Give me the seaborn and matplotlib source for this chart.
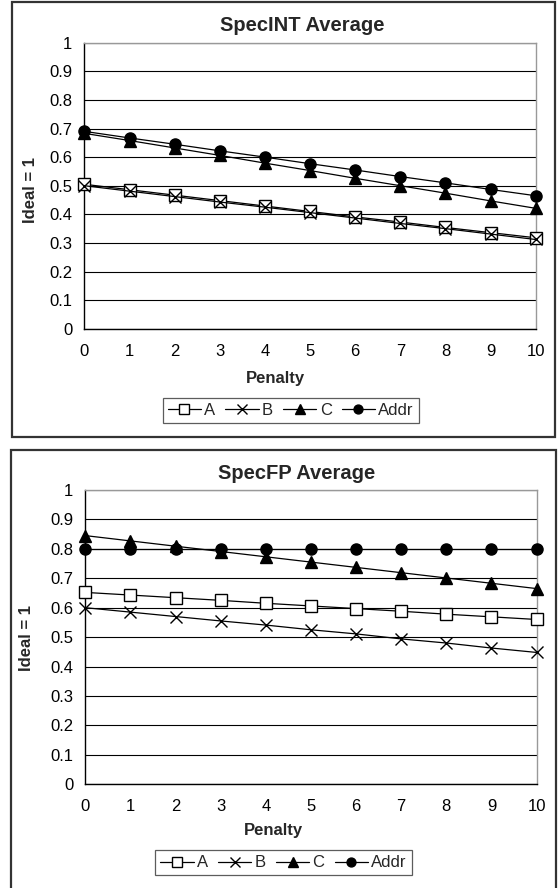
import numpy as np
import pandas as pd
import matplotlib
matplotlib.use("Agg")
import matplotlib.pyplot as plt
from matplotlib.patches import Rectangle
from matplotlib.lines import Line2D
import seaborn as sns

# data
penalty = [0, 1, 2, 3, 4, 5, 6, 7, 8, 9, 10]
series_names = ['A', 'B', 'C', 'Addr']

int_a = [0.505, 0.486, 0.467, 0.448, 0.429, 0.410, 0.391, 0.373, 0.354, 0.336, 0.318]
int_b = [0.500, 0.481, 0.462, 0.443, 0.425, 0.406, 0.387, 0.368, 0.350, 0.331, 0.312]
int_c = [0.683, 0.658, 0.632, 0.606, 0.579, 0.553, 0.526, 0.500, 0.474, 0.447, 0.421]
int_addr = [0.690, 0.667, 0.645, 0.622, 0.600, 0.577, 0.555, 0.532, 0.510, 0.487, 0.465]

fp_a = [0.652, 0.643, 0.634, 0.625, 0.615, 0.606, 0.597, 0.588, 0.578, 0.569, 0.560]
fp_b = [0.600, 0.585, 0.570, 0.555, 0.541, 0.525, 0.511, 0.494, 0.480, 0.463, 0.448]
fp_c = [0.845, 0.827, 0.809, 0.791, 0.773, 0.755, 0.737, 0.719, 0.701, 0.683, 0.665]
fp_addr = [0.80, 0.80, 0.80, 0.80, 0.80, 0.80, 0.80, 0.80, 0.80, 0.80, 0.80]

y_ticks = [0, 0.1, 0.2, 0.3, 0.4, 0.5, 0.6, 0.7, 0.8, 0.9, 1]

sns.set_style("white")
plt.rcParams['font.family'] = ['Liberation Sans', 'DejaVu Sans']

# marker look per series: (marker, size, facecolor)
styles = {
    'A': ('s', 8.5, 'white'),
    'B': ('x', 8.5, 'black'),
    'C': ('^', 8.5, 'black'),
    'Addr': ('o', 8.0, 'black'),
}


def make_df(a, b, c, addr):
    rows = []
    for name, vals in zip(series_names, [a, b, c, addr]):
        for x, v in zip(penalty, vals):
            rows.append({'Penalty': x, 'value': v, 'series': name})
    return pd.DataFrame(rows)


def draw_panel(ax, df):
    for name in series_names:
        mk, ms, fc = styles[name]
        sub = df[df['series'] == name]
        sns.lineplot(data=sub, x='Penalty', y='value', ax=ax, color='black', lw=0.9,
                     marker=mk, markersize=ms, markerfacecolor=fc, markeredgecolor='black',
                     markeredgewidth=1.0, clip_on=False, legend=False, zorder=3)
    ax.set_xlim(0, 10)
    ax.set_ylim(0, 1)
    ax.set_xticks(penalty)
    ax.set_yticks(y_ticks)
    ax.set_yticklabels([f'{v:g}' for v in y_ticks])
    ax.set_xlabel('')
    ax.set_ylabel('')
    ax.grid(axis='y', color='black', lw=0.8)
    ax.grid(axis='x', visible=False)
    ax.tick_params(axis='both', direction='inout', length=5.5, width=0.9, color='black',
                   labelsize=12, labelcolor='black', pad=6)
    ax.tick_params(axis='x', pad=8)
    ax.spines['left'].set_color('black')
    ax.spines['bottom'].set_color('black')
    ax.spines['top'].set_color('#999999')
    ax.spines['right'].set_color('#999999')
    for s in ax.spines.values():
        s.set_linewidth(1.0)
        s.set_visible(True)


fig = plt.figure(figsize=(5.58, 8.88), dpi=100)

# outer chart boxes
fig.patches.append(Rectangle((0.0224, 0.5082), 0.973, 0.4898, transform=fig.transFigure,
                             fill=False, edgecolor='#333333', lw=1.6))
fig.patches.append(Rectangle((0.0197, -0.02), 0.976, 0.5132, transform=fig.transFigure,
                             fill=False, edgecolor='#333333', lw=1.6))

ax1 = fig.add_axes([0.1514, 0.6298, 0.8086, 0.3221])
draw_panel(ax1, make_df(int_a, int_b, int_c, int_addr))
ax2 = fig.add_axes([0.1530, 0.1168, 0.8086, 0.3314])
draw_panel(ax2, make_df(fp_a, fp_b, fp_c, fp_addr))

handles = []
for name in series_names:
    mk, ms, fc = styles[name]
    handles.append(Line2D([0], [0], color='black', lw=0.9, marker=mk, markersize=ms * 0.8,
                          markerfacecolor=fc, markeredgecolor='black'))

titles = ['SpecINT Average', 'SpecFP Average']
title_pos = [(0.541, 0.9715), (0.532, 0.4673)]
ylab_pos = [(0.054, 0.786), (0.048, 0.2815)]
xlab_pos = [(0.493, 0.574), (0.490, 0.0653)]
leg_pos = [(0.521, 0.5374), (0.508, 0.0282)]

for i in range(2):
    fig.text(*title_pos[i], titles[i], ha='center', va='center', fontsize=14.5, fontweight='bold')
    fig.text(*ylab_pos[i], 'Ideal = 1', ha='center', va='center', rotation=90,
             fontsize=12, fontweight='bold')
    fig.text(*xlab_pos[i], 'Penalty', ha='center', va='center', fontsize=12, fontweight='bold')
    leg = fig.legend(handles, series_names, loc='center', bbox_to_anchor=leg_pos[i], ncol=4,
                     fontsize=12, frameon=True, fancybox=False, handlelength=2.0,
                     handletextpad=0.2, columnspacing=0.6, borderpad=0.3)
    leg.get_frame().set_edgecolor('#333333')
    leg.get_frame().set_linewidth(0.9)

fig.savefig('out.png', dpi=100)
